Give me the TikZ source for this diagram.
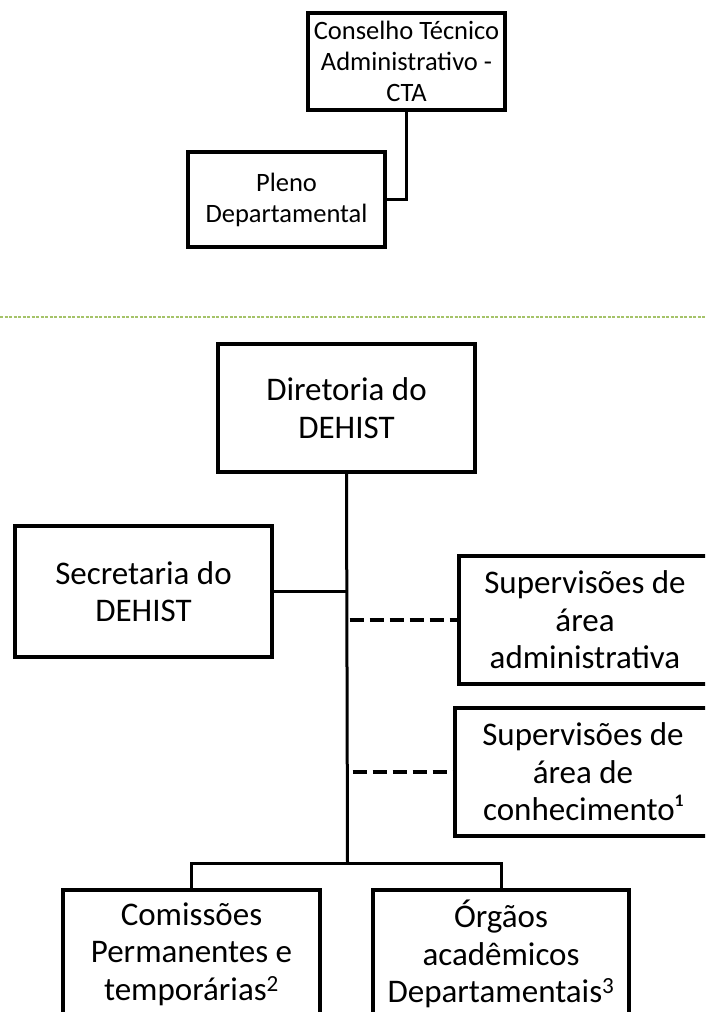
\documentclass[tikz,border=0pt]{standalone}
\usepackage{fontspec}
\setmainfont{Carlito}
\definecolor{sepgreen}{RGB}{165,195,105}
\tikzset{
  box/.style={draw=black, line width=4pt, align=center, inner sep=0pt},
  bigbox/.style={box, font=\fontsize{33}{37.5}\selectfont},
  smallbox/.style={box, font=\fontsize{26.5}{31}\selectfont},
  link/.style={line width=3pt},
  dlink/.style={line width=4pt, dash pattern=on 14pt off 6pt},
}
\begin{document}
\begin{tikzpicture}[x=1pt,y=-1pt]
\clip (0,0) rectangle (705,1012);
\fill[white] (0,0) rectangle (705,1012);
% top part
\node[smallbox, minimum width=197pt, minimum height=97pt] (cta) at (406.5,61.5) {Conselho Técnico\\Administrativo -\\CTA};
\node[smallbox, minimum width=197pt, minimum height=95pt] (pleno) at (286.5,199.5) {Pleno\\Departamental};
\draw[link] (cta.south) |- (pleno.east);
% separator
\coordinate (sepL) at (0,317);
\coordinate (sepR) at (705,317);
\draw[sepgreen, line width=1.3pt, dash pattern=on 3pt off 1.5pt] (sepL) -- (sepR);
% bottom part
\node[bigbox, minimum width=257pt, minimum height=128pt] (dir) at (346.5,408) {Diretoria do\\DEHIST};
\node[bigbox, minimum width=257pt, minimum height=131pt] (sec) at (143.5,591.5) {Secretaria do\\DEHIST};
\node[bigbox, minimum width=252pt, minimum height=128pt] (supA) at (585,620) {Supervisões de\\área\\administrativa};
\node[bigbox, minimum width=256pt, minimum height=128pt] (supC) at (583,772) {Supervisões de\\área de\\conhecimento¹};
\node[bigbox, minimum width=257pt, minimum height=128pt] (com) at (191.5,954) {Comissões\\Permanentes e\\temporárias\textsuperscript{2}};
\node[bigbox, minimum width=256pt, minimum height=128pt] (org) at (501,954) {Órgãos\\acadêmicos\\Departamentais\textsuperscript{3}};
\coordinate (jn) at (347.5,863);
\draw[link] (dir.south) -- (jn);
\draw[link] (sec.east) -- (sec.east -| jn);
\draw[dlink] ([xshift=2pt]supA.west -| jn) -- (supA.west);
\draw[dlink] ([xshift=5pt]supC.west -| jn) -- (supC.west);
\draw[link] (com.north) |- (jn) -| (org.north);
\end{tikzpicture}
\end{document}
